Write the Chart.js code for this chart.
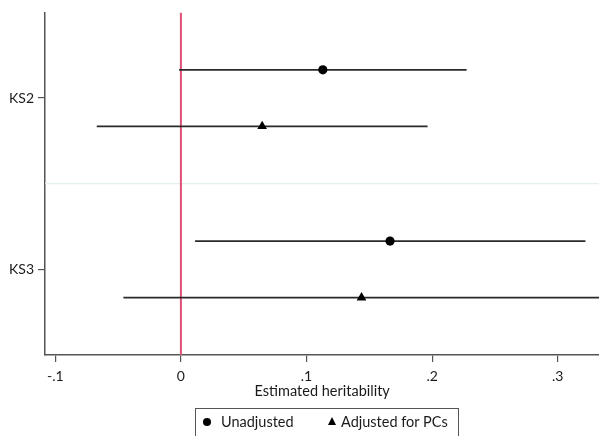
<!DOCTYPE html>
<html>
<head>
<meta charset="utf-8">
<script src="https://cdn.jsdelivr.net/npm/chart.js@4.4.0/dist/chart.umd.min.js"></script>
<style>
  html, body { margin: 0; padding: 0; background: #fff; overflow: hidden; }
  #wrap { position: relative; width: 599px; height: 436px; overflow: hidden; }
  #c { position: absolute; left: 0; top: 0; }
  #legend { position: absolute; left: 195px; top: 408px; width: 264px; height: 40px;
    border: 1px solid #555; box-sizing: border-box; font-family: Lato, "Open Sans", sans-serif;
    font-size: 14.5px; color: #1a1a1a; }
  .item { position: absolute; top: 4px; line-height: 18px; white-space: nowrap; }
  .dot { position: absolute; width: 8px; height: 8px; border-radius: 50%; background: #000; }
  .tri { position: absolute; width: 0; height: 0; border-left: 4.5px solid transparent;
    border-right: 4.5px solid transparent; border-bottom: 8px solid #000; }
</style>
</head>
<body>
<div id="wrap">
  <canvas id="c" width="605" height="436"></canvas>
  <div id="legend"></div>
</div>
<script>
// ---- data ----
const categories = ['KS2', 'KS3'];
const seriesNames = ['Unadjusted', 'Adjusted for PCs'];
const unadjEst = [0.113, 0.1665];
const unadjLo  = [-0.0014, 0.0113];
const unadjHi  = [0.2275, 0.3221];
const adjEst   = [0.0647, 0.1438];
const adjLo    = [-0.067, -0.0458];
const adjHi    = [0.1964, 0.36];
const xTickValues = [-0.1, 0, 0.1, 0.2, 0.3];
const xTickLabels = ['-.1', '0', '.1', '.2', '.3'];
const xTitle = 'Estimated heritability';

// ---- layout helpers (not data) ----
const catPos = categories.map((c, i) => 1 + 2 * i);
const rowOff = 0.33;
const X_MIN = -0.1082, X_MAX = 0.3332;

const FONT = 'Lato, "Open Sans", sans-serif';
const TXT = '#1a1a1a';
const AX = '#555555';

const datasets = [];
datasets.push({
  label: seriesNames[0], type: 'scatter', order: 0,
  data: categories.map((c, i) => ({ x: unadjEst[i], y: catPos[i] - rowOff })),
  pointStyle: 'circle', pointRadius: 4.6, backgroundColor: '#000', borderColor: '#000', borderWidth: 0
});
datasets.push({
  label: seriesNames[1], type: 'scatter', order: 0,
  data: categories.map((c, i) => ({ x: adjEst[i], y: catPos[i] + rowOff })),
  pointStyle: 'triangle', pointRadius: 5.6, backgroundColor: '#000', borderColor: '#000', borderWidth: 0
});
categories.forEach((c, i) => {
  datasets.push({
    label: 'ci-u-' + i, type: 'scatter', showLine: true, order: 2,
    data: [{ x: unadjLo[i], y: catPos[i] - rowOff }, { x: unadjHi[i], y: catPos[i] - rowOff }],
    pointRadius: 0, borderColor: '#2a2a2a', borderWidth: 1.7
  });
  datasets.push({
    label: 'ci-a-' + i, type: 'scatter', showLine: true, order: 2,
    data: [{ x: adjLo[i], y: catPos[i] + rowOff }, { x: adjHi[i], y: catPos[i] + rowOff }],
    pointRadius: 0, borderColor: '#2a2a2a', borderWidth: 1.7
  });
});
datasets.push({
  label: 'ref', type: 'scatter', showLine: true, order: 3,
  data: [{ x: 0, y: 0 }, { x: 0, y: 4 }],
  pointRadius: 0, borderColor: '#de4f74', borderWidth: 2
});
datasets.push({
  label: 'sep', type: 'scatter', showLine: true, order: 4,
  data: [{ x: X_MIN, y: 2 }, { x: X_MAX, y: 2 }],
  pointRadius: 0, borderColor: '#e4eef0', borderWidth: 1.2
});

new Chart(document.getElementById('c'), {
  type: 'scatter',
  data: { datasets },
  options: {
    responsive: false, animation: false, devicePixelRatio: 1,
    layout: { padding: { top: 11, right: 0, left: 0, bottom: 0 } },
    plugins: { legend: { display: false }, tooltip: { enabled: false } },
    scales: {
      x: {
        type: 'linear', min: X_MIN, max: X_MAX,
        afterBuildTicks: s => { s.ticks = xTickValues.map(v => ({ value: v })); },
        afterFit: s => { s.height = 81; },
        ticks: { callback: (v) => { const k = xTickValues.findIndex(t => Math.abs(t - v) < 1e-9); return k >= 0 ? xTickLabels[k] : ''; },
          font: { family: FONT, size: 14 }, color: TXT, padding: 6, maxRotation: 0, autoSkip: false },
        grid: { display: true, drawOnChartArea: false, drawTicks: true, tickLength: 7, color: AX, lineWidth: 1.2 },
        border: { display: true, color: AX, width: 1.5 },
        title: { display: true, text: xTitle, font: { family: FONT, size: 14.5 }, color: TXT, padding: { top: 0, bottom: 36 } }
      },
      y: {
        type: 'linear', min: 0, max: 4, reverse: true,
        afterBuildTicks: s => { s.ticks = catPos.map(v => ({ value: v })); },
        afterFit: s => { s.width = 45; },
        ticks: { callback: (v) => { const k = catPos.indexOf(v); return k >= 0 ? categories[k] : ''; },
          font: { family: FONT, size: 14 }, color: TXT, padding: 4, autoSkip: false },
        grid: { display: true, drawOnChartArea: false, drawTicks: true, tickLength: 7, color: AX, lineWidth: 1.2 },
        border: { display: true, color: AX, width: 1.5 }
      }
    }
  }
});

const lg = document.getElementById('legend');
const items = [
  { name: seriesNames[0], marker: 'dot', mx: 7, tx: 25 },
  { name: seriesNames[1], marker: 'tri', mx: 132, tx: 145 }
];
items.forEach(it => {
  const m = document.createElement('div');
  m.className = it.marker;
  m.style.left = it.mx + 'px';
  m.style.top = (it.marker === 'dot' ? 9 : 8) + 'px';
  lg.appendChild(m);
  const t = document.createElement('div');
  t.className = 'item';
  t.style.left = it.tx + 'px';
  t.textContent = it.name;
  lg.appendChild(t);
});
</script>
</body>
</html>
